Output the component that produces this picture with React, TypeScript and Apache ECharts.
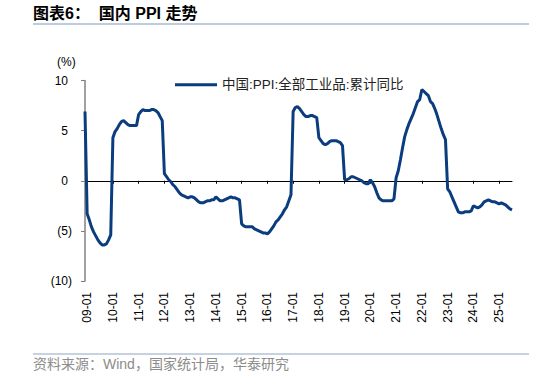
import React, { useEffect, useRef } from "react";
import * as echarts from "echarts";

// PPI cumulative YoY (%), monthly, by year
const startValue = [6.9]; // 2008-12
const y2009 = [-3.3, -3.9, -4.6, -5.1, -5.5, -5.9, -6.2, -6.4, -6.4, -6.3, -5.9, -5.4];
const y2010 = [4.3, 4.9, 5.2, 5.6, 5.9, 6.0, 5.8, 5.6, 5.5, 5.5, 5.5, 5.5];
const y2011 = [6.6, 6.9, 7.1, 7.0, 7.0, 7.0, 7.1, 7.1, 7.0, 6.8, 6.4, 6.0];
const y2012 = [0.7, 0.4, 0.1, -0.1, -0.4, -0.6, -0.9, -1.2, -1.4, -1.5, -1.6, -1.7];
const y2013 = [-1.6, -1.6, -1.7, -1.9, -2.1, -2.2, -2.2, -2.1, -2.0, -2.0, -1.9, -1.9];
const y2014 = [-1.6, -1.8, -2.0, -2.0, -1.9, -1.8, -1.7, -1.6, -1.7, -1.7, -1.8, -1.9];
const y2015 = [-4.3, -4.5, -4.6, -4.6, -4.6, -4.6, -4.8, -4.9, -5.0, -5.1, -5.2, -5.2];
const y2016 = [-5.3, -5.1, -4.8, -4.5, -4.1, -3.9, -3.6, -3.3, -2.9, -2.6, -2.0, -1.4];
const y2017 = [6.9, 7.3, 7.4, 7.2, 6.9, 6.6, 6.4, 6.4, 6.5, 6.5, 6.4, 6.3];
const y2018 = [4.3, 4.0, 3.7, 3.6, 3.7, 3.9, 4.0, 4.0, 4.0, 3.9, 3.8, 3.5];
const y2019 = [0.1, 0.1, 0.2, 0.4, 0.4, 0.3, 0.2, 0.1, 0.0, -0.2, -0.3, -0.3];
const y2020 = [0.1, -0.2, -0.6, -1.2, -1.7, -1.9, -2.0, -2.0, -2.0, -2.0, -2.0, -1.8];
const y2021 = [0.3, 1.0, 2.1, 3.3, 4.4, 5.1, 5.7, 6.2, 6.7, 7.3, 7.9, 8.1];
const y2022 = [9.1, 8.9, 8.7, 8.5, 7.9, 7.7, 7.2, 6.6, 5.9, 5.2, 4.6, 4.1];
const y2023 = [-0.8, -1.1, -1.6, -2.1, -2.6, -3.1, -3.2, -3.2, -3.1, -3.1, -3.1, -3.0];
const y2024 = [-2.5, -2.6, -2.7, -2.6, -2.4, -2.1, -2.0, -1.9, -2.0, -2.1, -2.1, -2.2];
const y2025 = [-2.3, -2.2, -2.3, -2.4, -2.6, -2.8, -2.9];

const yearlyValues = [
  y2009, y2010, y2011, y2012, y2013, y2014, y2015, y2016, y2017,
  y2018, y2019, y2020, y2021, y2022, y2023, y2024, y2025,
];
const firstYear = 9; // "09"
const startCategory = "08-12";

const yTicks = [-10, -5, 0, 5, 10];

const seriesName = "中国:PPI:全部工业品:累计同比";
const titleText = "图表6：  国内 PPI 走势";
const sourceText = "资料来源：Wind，国家统计局，华泰研究";

const categories: string[] = [startCategory];
const values: number[] = [...startValue];
yearlyValues.forEach((arr, i) => {
  const yy = String(firstYear + i).padStart(2, "0");
  arr.forEach((v, m) => {
    categories.push(`${yy}-${String(m + 1).padStart(2, "0")}`);
    values.push(v);
  });
});

const LINE_COLOR = "#0B3D7E";
const FONT = "'Liberation Sans', Arial, 'Noto Sans CJK SC', sans-serif";

export default function App() {
  const ref = useRef<HTMLDivElement>(null);
  useEffect(() => {
    if (!ref.current) return;
    const chart = echarts.init(ref.current, null, { renderer: "svg" });
    const isJan = (_i: number, v: string) => String(v).endsWith("-01");
    const gridPos = { left: 85, right: 22, top: 80.5, bottom: 97 };
    chart.setOption({
      animation: false,
      textStyle: { fontFamily: FONT },
      grid: [
        { ...gridPos, containLabel: false },
        { ...gridPos, containLabel: false },
      ],
      legend: {
        data: [seriesName],
        left: 170,
        top: 73,
        icon: "rect",
        itemWidth: 42,
        itemHeight: 3,
        itemGap: 6,
        textStyle: { fontSize: 13.5, color: "#222", fontFamily: FONT },
      },
      xAxis: [
        {
          type: "category",
          gridIndex: 0,
          data: categories,
          boundaryGap: false,
          position: "bottom",
          axisLine: { show: true, onZero: true, lineStyle: { color: "#000", width: 1 } },
          axisTick: { show: true, interval: isJan, length: 3, inside: false, lineStyle: { color: "#000" } },
          axisLabel: { show: false },
          splitLine: { show: false },
        },
        {
          type: "category",
          gridIndex: 1,
          data: categories,
          boundaryGap: false,
          position: "bottom",
          axisLine: { show: false, onZero: false },
          axisTick: { show: false },
          axisLabel: {
            show: true,
            interval: isJan,
            rotate: 90,
            margin: 11,
            fontSize: 12,
            color: "#000",
            fontFamily: FONT,
          },
          splitLine: { show: false },
        },
      ],
      yAxis: [
        {
          type: "value",
          gridIndex: 0,
          min: yTicks[0],
          max: yTicks[yTicks.length - 1],
          interval: 5,
          axisLine: { show: true, lineStyle: { color: "#808080", width: 1.5 } },
          axisTick: { show: true, length: 4, lineStyle: { color: "#808080" } },
          splitLine: { show: false },
          axisLabel: {
            margin: 13,
            fontSize: 12,
            color: "#000",
            fontFamily: FONT,
            formatter: (v: number) => (v < 0 ? `(${-v})` : `{p|${v}}`),
            rich: { p: { padding: [0, 4, 0, 0], fontSize: 12, color: "#000", fontFamily: FONT } },
          },
        },
        {
          type: "value",
          gridIndex: 1,
          min: yTicks[0],
          max: yTicks[yTicks.length - 1],
          show: false,
        },
      ],
      series: [
        {
          name: seriesName,
          type: "line",
          xAxisIndex: 0,
          yAxisIndex: 0,
          data: values,
          showSymbol: false,
          symbol: "none",
          lineStyle: { color: LINE_COLOR, width: 3 },
          itemStyle: { color: LINE_COLOR },
        },
      ],
      graphic: [
        {
          type: "text",
          left: 33,
          top: 5,
          style: { text: titleText, fill: "#000", font: `bold 16px ${FONT}` },
        },
        {
          type: "line",
          shape: { x1: 33, y1: 24, x2: 529, y2: 24 },
          style: { stroke: "#A9BDD3", lineWidth: 1.5 },
        },
        {
          type: "text",
          left: 57,
          top: 56,
          style: { text: "(%)", font: `12px ${FONT}`, fill: "#000" },
        },
        {
          type: "line",
          shape: { x1: 33, y1: 354, x2: 529, y2: 354 },
          style: { stroke: "#B4C3D6", lineWidth: 1.5 },
        },
        {
          type: "text",
          left: 33,
          top: 357,
          style: { text: sourceText, font: `14px ${FONT}`, fill: "#8C8C8C" },
        },
      ],
    });
    return () => chart.dispose();
  }, []);
  return (
    <div
      ref={ref}
      style={{ position: "fixed", left: 0, top: 0, width: 534, height: 378, background: "#fff" }}
    />
  );
}
